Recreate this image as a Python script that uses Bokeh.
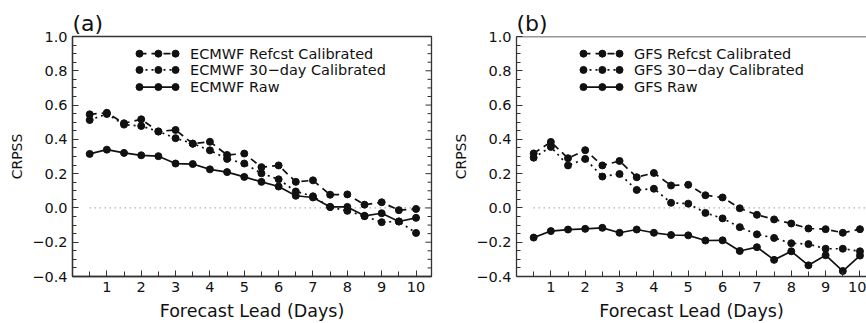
import numpy as np
from bokeh.plotting import figure
from bokeh.layouts import row
from bokeh.models import Range1d, FixedTicker, Span
from bokeh.core.properties import value
from bokeh.embed import file_html
from bokeh.resources import INLINE

# ---------------- data ----------------
lead = [0.5, 1.0, 1.5, 2.0, 2.5, 3.0, 3.5, 4.0, 4.5, 5.0,
        5.5, 6.0, 6.5, 7.0, 7.5, 8.0, 8.5, 9.0, 9.5, 10.0]

ecmwf_refcst = [0.546, 0.555, 0.494, 0.517, 0.446, 0.455, 0.375, 0.386, 0.309, 0.317,
                0.238, 0.248, 0.152, 0.161, 0.077, 0.079, 0.019, 0.033, -0.013, -0.006]
ecmwf_30day = [0.513, 0.548, 0.486, 0.478, 0.446, 0.407, 0.375, 0.336, 0.286, 0.259,
               0.202, 0.167, 0.096, 0.068, 0.005, -0.017, -0.048, -0.083, -0.079, -0.146]
ecmwf_raw = [0.315, 0.340, 0.321, 0.307, 0.302, 0.259, 0.256, 0.225, 0.209, 0.181,
             0.152, 0.125, 0.071, 0.061, 0.006, 0.006, -0.046, -0.031, -0.079, -0.058]

gfs_refcst = [0.318, 0.385, 0.290, 0.337, 0.248, 0.274, 0.179, 0.204, 0.131, 0.135,
              0.074, 0.061, -0.002, -0.040, -0.067, -0.091, -0.120, -0.124, -0.145, -0.124]
gfs_30day = [0.293, 0.356, 0.248, 0.286, 0.183, 0.198, 0.105, 0.112, 0.030, 0.025,
             -0.029, -0.061, -0.112, -0.154, -0.175, -0.206, -0.211, -0.238, -0.238, -0.253]
gfs_raw = [-0.173, -0.135, -0.126, -0.122, -0.116, -0.145, -0.126, -0.145, -0.158, -0.160,
           -0.190, -0.189, -0.251, -0.229, -0.303, -0.253, -0.335, -0.276, -0.368, -0.278]

ecmwf_names = ["ECMWF Refcst Calibrated", "ECMWF 30\u2212day Calibrated", "ECMWF Raw"]
gfs_names = ["GFS Refcst Calibrated", "GFS 30\u2212day Calibrated", "GFS Raw"]

x_ticks = [1, 2, 3, 4, 5, 6, 7, 8, 9, 10]
y_ticks = [-0.4, -0.2, 0.0, 0.2, 0.4, 0.6, 0.8, 1.0]
y_tick_labels = ["\u22120.4", "\u22120.2", "0.0", "0.2", "0.4", "0.6", "0.8", "1.0"]

FONT = "DejaVu Sans"
INK = "#111111"
FRAME = "#333333"
DASHES = ["7 5", "2 4", "solid"]
PX_PER_DAY = 34.35


def make_panel(title, names, series, x_end, width, mb_left, mb_right, full_frame):
    p = figure(width=width, height=323,
               x_range=Range1d(0, x_end), y_range=Range1d(-0.4, 1.0),
               output_backend="svg", toolbar_location=None,
               min_border_left=mb_left, min_border_right=mb_right,
               min_border_top=36, min_border_bottom=45,
               title=title)
    p.title.text_font = FONT
    p.title.text_font_size = "22px"
    p.title.text_font_style = "normal"
    p.title.text_color = INK
    p.title.standoff = 2
    p.xgrid.visible = False
    p.ygrid.visible = False
    p.background_fill_color = "white"
    p.border_fill_color = "white"
    if full_frame:
        p.outline_line_color = FRAME
        p.outline_line_width = 1.3
    else:
        p.outline_line_color = None
        p.add_layout(Span(location=1.0, dimension="width",
                          line_color=FRAME, line_width=1.3))

    minor_x = [v for v in np.arange(0.5, 10.01, 0.5) if abs(v - round(v)) > 1e-6]
    minor_y = [round(v, 2) for v in np.arange(-0.4, 1.001, 0.05)
               if min(abs(v - t) for t in y_ticks) > 1e-6]

    xa = p.xaxis[0]
    xa.ticker = FixedTicker(ticks=x_ticks, minor_ticks=minor_x)
    xa.axis_label = "Forecast Lead (Days)"
    ya = p.yaxis[0]
    ya.ticker = FixedTicker(ticks=y_ticks, minor_ticks=minor_y)
    ya.major_label_overrides = {t: l for t, l in zip(y_ticks, y_tick_labels)}
    ya.axis_label = "CRPSS"

    for ax in (xa, ya):
        ax.axis_line_color = FRAME
        ax.axis_line_width = 1.3
        ax.major_tick_in = 6
        ax.major_tick_out = 0
        ax.minor_tick_in = 4
        ax.minor_tick_out = 0
        ax.major_tick_line_color = FRAME
        ax.minor_tick_line_color = FRAME
        ax.major_label_text_font = FONT
        ax.major_label_text_font_size = "14.5px"
        ax.major_label_text_color = INK
        ax.major_label_standoff = 5
        ax.axis_label_text_font = FONT
        ax.axis_label_text_font_style = "normal"
        ax.axis_label_text_color = INK
    xa.minor_tick_in = 5
    xa.axis_label_text_font_size = "17.5px"
    xa.axis_label_standoff = 6
    ya.axis_label_text_font_size = "14px"
    ya.axis_label_standoff = 4

    if full_frame:
        # inward ticks on the right edge of the frame
        maj_len = 6 / PX_PER_DAY
        min_len = 4 / PX_PER_DAY
        p.segment([x_end] * len(y_ticks), y_ticks,
                  [x_end - maj_len] * len(y_ticks), y_ticks,
                  line_color=FRAME, line_width=1)
        p.segment([x_end] * len(minor_y), minor_y,
                  [x_end - min_len] * len(minor_y), minor_y,
                  line_color=FRAME, line_width=1)

    # zero reference line
    p.line([lead[0], x_end], [0, 0], line_color="#8a8a8a", line_width=1.2,
           line_dash="1 4")

    for ys, dash in zip(series, DASHES):
        p.line(lead, ys, line_color=INK, line_width=1.7, line_dash=dash)
        p.scatter(lead, ys, size=7, color=INK)

    # legend (three sample markers per entry)
    leg_x = [1.95, 2.50, 3.0]
    leg_text_x = 3.42
    leg_y = [0.90, 0.805, 0.705]
    for yy, dash, name in zip(leg_y, DASHES, names):
        p.line(leg_x, [yy] * 3, line_color=INK, line_width=1.7, line_dash=dash)
        p.scatter(leg_x, [yy] * 3, size=7, color=INK)
        p.text([leg_text_x], [yy], text=[name], text_font=value(FONT),
               text_font_size="14.5px", text_baseline="middle", text_align="left",
               text_color=INK)
    return p


W1 = 440
p1 = make_panel("(a)", ecmwf_names, [ecmwf_refcst, ecmwf_30day, ecmwf_raw],
                10.45, W1, 72, 9, True)
p2 = make_panel("(b)", gfs_names, [gfs_refcst, gfs_30day, gfs_raw],
                10.19, 866 - W1, 76, 0, False)

layout = row(p1, p2)
open("out.html", "w").write(file_html(layout, INLINE))
